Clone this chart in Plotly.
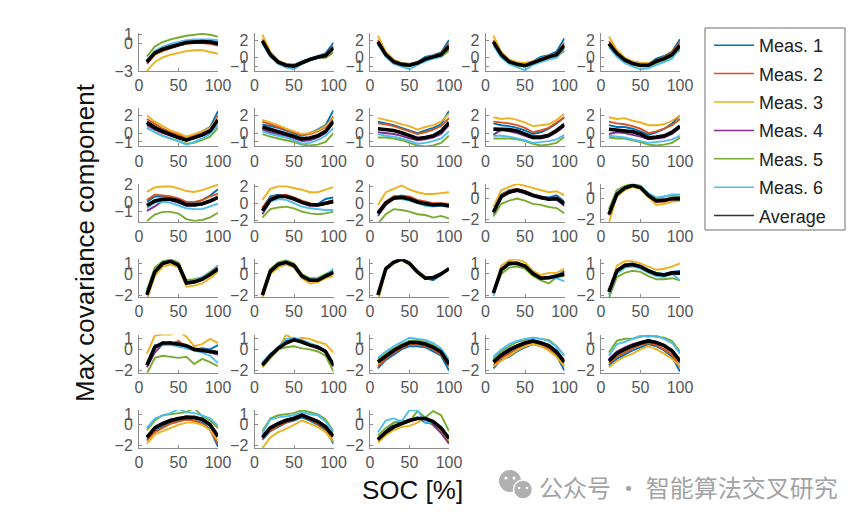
import plotly.graph_objects as go

# ---------------- data ----------------
X = [10, 20, 30, 40, 50, 60, 70, 80, 90, 100]
NAMES = ["Meas. 1", "Meas. 2", "Meas. 3", "Meas. 4", "Meas. 5", "Meas. 6", "Average"]
COLORS = ["#0072BD", "#D95319", "#EDB120", "#7E2F8E", "#77AC30", "#4DBEEE", "#000000"]
X_TICKS = [0, 50, 100]

# each panel: [Meas.1, Meas.2, Meas.3, Meas.4, Meas.5, Meas.6, Average]
P01 = [[-1.8, -0.9, -0.4, -0.1, 0.1, 0.3, 0.4, 0.4, 0.4, 0.3],
       [-2.2, -1.2, -0.8, -0.5, -0.2, 0.0, 0.1, 0.1, 0.0, -0.2],
       [-3.0, -2.0, -1.5, -1.2, -1.0, -0.8, -0.7, -0.7, -0.9, -1.1],
       [-2.0, -1.0, -0.6, -0.3, -0.1, 0.1, 0.2, 0.2, 0.1, 0.0],
       [-1.4, -0.3, 0.2, 0.5, 0.7, 0.9, 1.0, 1.1, 1.0, 0.8],
       [-1.8, -0.8, -0.3, 0.0, 0.2, 0.4, 0.5, 0.5, 0.5, 0.4],
       [-2.0, -1.0, -0.6, -0.3, -0.1, 0.15, 0.25, 0.25, 0.2, 0.0]]
P02 = [[1.9, 0.4, -0.4, -0.7, -0.8, -0.4, -0.1, 0.2, 0.5, 1.7],
       [2.1, 0.5, -0.4, -0.8, -0.8, -0.5, -0.2, 0.1, 0.3, 1.3],
       [2.6, 0.7, -0.3, -0.7, -0.8, -0.5, -0.2, 0.1, 0.3, 1.1],
       [1.9, 0.3, -0.5, -0.9, -0.9, -0.6, -0.2, 0.0, 0.2, 1.0],
       [1.7, 0.2, -0.6, -1.0, -1.0, -0.6, -0.3, 0.0, 0.0, 0.6],
       [1.6, 0.1, -0.7, -1.1, -1.3, -0.7, -0.3, 0.0, 0.2, 1.2],
       [1.9, 0.35, -0.5, -0.85, -0.95, -0.55, -0.2, 0.05, 0.25, 1.1]]
P03 = [[1.8, 0.5, -0.3, -0.6, -0.7, -0.5, 0.1, 0.3, 0.6, 2.0],
       [2.0, 0.5, -0.4, -0.7, -0.8, -0.6, -0.1, 0.2, 0.5, 1.6],
       [2.5, 0.7, -0.2, -0.6, -0.7, -0.5, -0.1, 0.2, 0.4, 1.2],
       [1.8, 0.3, -0.5, -0.8, -0.9, -0.6, -0.2, 0.1, 0.3, 1.1],
       [1.6, 0.2, -0.6, -0.9, -1.0, -0.7, -0.3, 0.0, 0.1, 0.8],
       [1.5, 0.1, -0.7, -1.0, -1.3, -0.8, -0.4, -0.1, 0.1, 1.3],
       [1.8, 0.35, -0.45, -0.75, -0.85, -0.6, -0.15, 0.1, 0.35, 1.3]]
P04 = [[1.9, 0.5, -0.3, -0.6, -0.7, -0.4, 0.1, 0.3, 0.7, 2.2],
       [2.0, 0.5, -0.4, -0.7, -0.8, -0.5, -0.1, 0.2, 0.5, 1.7],
       [2.5, 0.7, -0.2, -0.5, -0.6, -0.4, -0.1, 0.2, 0.4, 1.3],
       [1.8, 0.4, -0.5, -0.8, -0.9, -0.6, -0.2, 0.1, 0.3, 1.2],
       [1.6, 0.2, -0.6, -0.9, -1.0, -0.7, -0.3, -0.1, 0.1, 0.8],
       [1.4, 0.0, -0.7, -1.1, -1.4, -0.8, -0.5, -0.2, 0.0, 1.1],
       [1.8, 0.35, -0.45, -0.75, -0.9, -0.55, -0.15, 0.1, 0.35, 1.4]]
P05 = [[1.6, 0.6, -0.1, -0.5, -0.7, -0.7, -0.1, 0.2, 0.7, 2.1],
       [1.9, 0.7, -0.1, -0.5, -0.7, -0.7, -0.3, 0.1, 0.6, 1.8],
       [2.4, 0.9, 0.0, -0.4, -0.6, -0.6, -0.3, 0.0, 0.5, 1.4],
       [1.5, 0.4, -0.3, -0.7, -0.9, -0.9, -0.5, -0.1, 0.3, 1.3],
       [1.4, 0.3, -0.4, -0.8, -1.0, -1.0, -0.6, -0.3, 0.1, 0.9],
       [1.2, 0.1, -0.6, -1.0, -1.3, -1.2, -0.8, -0.5, -0.1, 1.2],
       [1.6, 0.5, -0.25, -0.65, -0.85, -0.85, -0.4, -0.1, 0.35, 1.4]]
P06 = [[1.3, 0.8, 0.3, 0.0, -0.3, -0.6, -0.2, 0.2, 0.7, 2.5],
       [1.6, 1.0, 0.5, 0.1, -0.2, -0.5, -0.3, 0.1, 0.5, 2.0],
       [2.0, 1.3, 0.8, 0.3, 0.0, -0.4, -0.1, 0.2, 0.6, 1.8],
       [0.9, 0.4, 0.0, -0.3, -0.6, -0.8, -0.6, -0.3, 0.1, 1.4],
       [0.6, 0.1, -0.3, -0.6, -0.9, -1.2, -1.1, -0.8, -0.4, 0.6],
       [0.6, 0.1, -0.3, -0.6, -0.9, -1.3, -1.0, -0.6, -0.1, 0.9],
       [1.2, 0.6, 0.2, -0.2, -0.5, -0.8, -0.55, -0.2, 0.25, 1.5]]
P07 = [[1.0, 0.8, 0.6, 0.3, 0.0, -0.3, 0.0, 0.4, 0.9, 2.6],
       [1.3, 1.0, 0.7, 0.4, 0.1, -0.2, -0.1, 0.2, 0.7, 1.9],
       [1.5, 1.2, 0.9, 0.5, 0.2, -0.1, 0.0, 0.3, 0.8, 1.7],
       [0.4, 0.1, -0.1, -0.3, -0.6, -0.9, -0.8, -0.5, 0.0, 1.2],
       [-0.1, -0.4, -0.6, -0.8, -1.0, -1.3, -1.4, -1.3, -1.0, 0.0],
       [0.2, -0.1, -0.3, -0.5, -0.8, -1.2, -1.1, -0.8, -0.3, 0.6],
       [0.7, 0.4, 0.2, -0.1, -0.35, -0.65, -0.55, -0.3, 0.2, 1.35]]
P08 = [[1.3, 1.1, 0.9, 0.6, 0.3, 0.0, 0.3, 0.6, 1.0, 2.5],
       [1.1, 1.0, 0.8, 0.5, 0.2, -0.1, 0.1, 0.4, 0.8, 1.7],
       [1.7, 1.5, 1.3, 1.0, 0.8, 0.4, 0.7, 0.9, 1.3, 2.2],
       [0.1, 0.0, -0.1, -0.3, -0.6, -0.8, -0.7, -0.5, -0.1, 0.9],
       [-0.5, -0.5, -0.6, -0.8, -1.1, -1.4, -1.5, -1.4, -1.1, -0.3],
       [-0.1, -0.3, -0.4, -0.6, -0.9, -1.2, -1.1, -0.9, -0.6, 0.2],
       [0.5, 0.4, 0.3, 0.05, -0.25, -0.6, -0.5, -0.3, 0.2, 1.2]]
P09 = [[1.1, 0.9, 0.8, 0.6, 0.3, -0.1, 0.1, 0.5, 1.1, 1.8],
       [1.3, 1.2, 1.1, 0.9, 0.6, 0.1, 0.3, 0.6, 1.2, 1.8],
       [1.8, 1.6, 1.7, 1.5, 1.2, 0.8, 0.9, 1.0, 1.5, 2.2],
       [-0.2, 0.4, 0.2, 0.0, -0.3, -0.6, -0.6, -0.4, 0.1, 0.8],
       [-0.6, -0.6, -0.6, -0.7, -0.9, -1.2, -1.4, -1.3, -1.1, -0.4],
       [-0.3, -0.3, -0.4, -0.6, -0.8, -1.1, -1.0, -0.9, -0.7, -0.2],
       [0.45, 0.45, 0.4, 0.25, -0.05, -0.45, -0.45, -0.25, 0.3, 1.0]]
P10 = [[0.9, 0.7, 0.7, 0.5, 0.2, -0.2, 0.1, 0.5, 1.1, 2.0],
       [1.3, 1.1, 1.0, 0.8, 0.5, 0.0, 0.2, 0.5, 0.9, 1.6],
       [1.8, 1.6, 1.7, 1.4, 1.2, 0.9, 0.9, 1.0, 1.4, 2.0],
       [-0.1, 0.1, 0.0, -0.2, -0.4, -0.7, -0.6, -0.5, -0.1, 0.6],
       [-0.5, -0.6, -0.6, -0.8, -1.0, -1.3, -1.4, -1.3, -1.1, -0.5],
       [-0.3, -0.4, -0.5, -0.7, -0.9, -1.1, -1.0, -0.9, -0.7, -0.3],
       [0.45, 0.35, 0.35, 0.15, -0.1, -0.55, -0.45, -0.3, 0.1, 0.8]]
P11 = [[0.1, 0.7, 0.7, 0.6, 0.4, 0.0, 0.0, 0.3, 0.8, 1.5],
       [0.3, 0.9, 0.8, 0.7, 0.5, 0.1, 0.1, 0.3, 0.7, 1.0],
       [1.2, 1.7, 1.8, 1.8, 1.6, 1.3, 1.2, 1.4, 1.7, 2.0],
       [-0.9, -0.4, 0.2, 0.3, 0.0, -0.3, -0.3, -0.2, 0.1, 0.5],
       [-2.0, -1.3, -1.0, -1.0, -1.2, -1.8, -2.0, -1.9, -1.6, -1.1],
       [-0.6, 0.0, 0.1, 0.0, -0.3, -0.6, -0.7, -0.7, -0.4, -0.1],
       [-0.3, 0.2, 0.4, 0.4, 0.2, -0.2, -0.25, -0.1, 0.2, 0.6]]
P12 = [[-0.6, 0.8, 1.0, 0.9, 0.6, 0.2, -0.1, -0.1, 0.5, 0.7],
       [-0.5, 0.6, 0.9, 1.0, 0.7, 0.3, 0.0, -0.2, 0.1, 0.4],
       [0.4, 1.7, 2.0, 2.0, 1.8, 1.6, 1.3, 1.3, 1.6, 1.9],
       [-1.3, 0.2, 0.7, 0.8, 0.5, 0.0, -0.3, -0.3, -0.1, 0.1],
       [-1.7, -0.7, -0.5, -0.4, -0.6, -1.0, -1.2, -1.3, -1.2, -1.0],
       [-1.0, 0.2, 0.5, 0.4, 0.0, -0.4, -0.6, -0.7, -0.8, -0.8],
       [-0.9, 0.4, 0.8, 0.8, 0.5, 0.1, -0.15, -0.2, 0.0, 0.2]]
P13 = [[-1.1, 0.1, 0.8, 0.9, 0.7, 0.3, 0.1, -0.2, -0.1, -0.3],
       [-1.0, 0.2, 0.8, 0.9, 0.8, 0.4, 0.2, 0.0, 0.0, -0.1],
       [-0.2, 1.3, 1.7, 2.1, 1.6, 1.3, 1.1, 1.1, 1.2, 1.3],
       [-1.5, -0.2, 0.6, 0.7, 0.6, 0.2, 0.0, -0.2, -0.2, -0.4],
       [-2.4, -1.3, -0.7, -0.8, -1.0, -1.3, -1.4, -1.7, -1.5, -1.8],
       [-1.3, 0.0, 0.5, 0.5, 0.3, 0.0, -0.3, -0.4, -0.3, -0.5],
       [-1.2, 0.0, 0.6, 0.7, 0.5, 0.15, -0.05, -0.2, -0.15, -0.3]]
P14 = [[-1.2, 0.4, 0.8, 0.9, 0.7, 0.4, 0.2, 0.1, 0.3, -0.3],
       [-1.2, 0.3, 0.8, 0.9, 0.7, 0.4, 0.2, 0.0, 0.1, -0.5],
       [-0.8, 0.8, 1.1, 1.4, 1.2, 1.0, 0.8, 0.6, 0.7, 0.3],
       [-1.5, 0.1, 0.6, 0.7, 0.5, 0.2, 0.0, -0.1, -0.1, -0.7],
       [-1.7, -0.5, -0.2, 0.0, -0.2, -0.5, -0.6, -0.8, -0.9, -1.4],
       [-1.4, 0.2, 0.7, 0.8, 0.6, 0.3, 0.1, 0.0, 0.0, -0.5],
       [-1.3, 0.2, 0.6, 0.8, 0.6, 0.3, 0.1, -0.05, 0.0, -0.5]]
P15 = [[-1.4, 0.4, 1.0, 1.2, 1.1, 0.3, -0.2, -0.2, 0.0, 0.0],
       [-1.6, 0.3, 0.9, 1.2, 1.0, 0.2, -0.3, -0.3, -0.1, -0.1],
       [-2.3, 0.2, 0.8, 1.1, 0.9, 0.1, -0.6, -0.5, -0.3, -0.2],
       [-1.5, 0.3, 1.0, 1.2, 1.0, 0.2, -0.3, -0.2, -0.1, -0.1],
       [-1.0, 0.8, 1.2, 1.4, 1.2, 0.5, 0.0, 0.2, 0.3, 0.2],
       [-1.5, 0.5, 1.1, 1.3, 1.2, 0.5, 0.1, 0.2, 0.4, 0.4],
       [-1.5, 0.4, 1.0, 1.25, 1.05, 0.3, -0.2, -0.15, 0.0, 0.0]]
P16 = [[-1.9, 0.3, 1.0, 1.2, 0.9, -0.8, -0.7, -0.4, 0.0, 0.6],
       [-2.0, 0.2, 1.0, 1.2, 0.8, -0.9, -0.7, -0.5, -0.1, 0.4],
       [-2.4, -0.2, 0.7, 0.9, 0.6, -1.2, -1.1, -0.9, -0.4, 0.2],
       [-2.0, 0.2, 1.0, 1.2, 0.8, -0.9, -0.8, -0.5, -0.1, 0.4],
       [-1.5, 0.6, 1.2, 1.4, 1.1, -0.6, -0.5, -0.3, 0.2, 0.8],
       [-1.8, 0.3, 1.1, 1.3, 0.9, -0.8, -0.6, -0.3, 0.1, 0.7],
       [-1.95, 0.2, 1.0, 1.2, 0.85, -0.85, -0.75, -0.5, -0.05, 0.5]]
P17 = [[-2.0, 0.3, 0.9, 1.1, 0.8, -0.2, -0.6, -0.6, -0.2, 0.2],
       [-2.0, 0.3, 0.9, 1.1, 0.8, -0.2, -0.6, -0.6, -0.2, 0.1],
       [-2.2, 0.0, 0.6, 0.9, 0.6, -0.4, -0.9, -0.8, -0.4, -0.2],
       [-2.0, 0.2, 0.9, 1.1, 0.8, -0.2, -0.6, -0.6, -0.2, 0.1],
       [-1.7, 0.5, 1.1, 1.3, 1.0, 0.0, -0.4, -0.4, 0.0, 0.3],
       [-1.9, 0.3, 1.0, 1.2, 0.9, -0.1, -0.5, -0.5, -0.1, 0.5],
       [-2.0, 0.25, 0.9, 1.1, 0.8, -0.2, -0.6, -0.6, -0.2, 0.15]]
P18 = [[-2.0, 0.5, 1.1, 1.4, 1.0, 0.2, -0.4, -0.6, -0.1, 0.5],
       [-2.0, 0.5, 1.1, 1.4, 1.0, 0.2, -0.4, -0.3, 0.0, 0.4],
       [-2.6, 0.3, 1.0, 1.3, 0.9, 0.1, -0.5, -0.4, 0.0, 0.4],
       [-2.0, 0.5, 1.1, 1.4, 1.0, 0.2, -0.4, -0.3, 0.0, 0.5],
       [-1.9, 0.6, 1.2, 1.4, 1.1, 0.3, -0.3, -0.3, 0.0, 0.5],
       [-2.0, 0.5, 1.1, 1.4, 1.0, 0.2, -0.4, -0.3, 0.0, 0.6],
       [-2.0, 0.5, 1.1, 1.4, 1.0, 0.2, -0.4, -0.35, 0.0, 0.5]]
P19 = [[-1.8, 0.4, 1.0, 1.0, 0.8, 0.1, -0.4, -0.3, -0.2, 0.3],
       [-1.7, 0.5, 1.0, 1.1, 0.8, 0.1, -0.3, -0.3, -0.1, 0.1],
       [-1.6, 0.8, 1.3, 1.4, 1.1, 0.3, -0.1, 0.1, 0.1, 0.5],
       [-1.8, 0.4, 0.9, 1.0, 0.7, 0.0, -0.4, -0.4, -0.2, 0.0],
       [-1.9, 0.0, 0.6, 0.7, 0.5, -0.2, -0.6, -0.9, -0.3, -0.2],
       [-2.1, 0.3, 0.9, 1.0, 0.7, 0.0, -0.5, -0.4, -0.4, -0.7],
       [-1.8, 0.4, 1.0, 1.0, 0.75, 0.05, -0.4, -0.35, -0.2, 0.0]]
P20 = [[-1.6, 0.4, 0.9, 1.0, 0.8, 0.4, 0.1, 0.0, 0.2, 0.3],
       [-1.5, 0.4, 0.9, 0.9, 0.7, 0.3, 0.0, -0.1, 0.1, 0.1],
       [-2.0, 0.8, 1.2, 1.2, 1.0, 0.7, 0.4, 0.5, 0.7, 1.0],
       [-1.7, 0.2, 0.7, 0.8, 0.6, 0.2, -0.1, -0.2, 0.0, 0.0],
       [-2.3, -0.3, 0.1, 0.3, 0.2, -0.2, -0.5, -0.5, -0.4, -0.6],
       [-2.0, 0.0, 0.6, 0.7, 0.5, 0.1, -0.2, -0.3, 0.0, -0.6],
       [-1.7, 0.3, 0.8, 0.9, 0.7, 0.3, 0.0, -0.1, 0.1, 0.1]]
P21 = [[-1.4, 0.4, 0.5, 0.5, 0.4, 0.3, 0.0, 0.1, 0.0, 0.4],
       [-1.3, 0.3, 0.6, 0.4, 0.8, 0.2, 0.0, 0.0, -0.1, -0.3],
       [-0.4, 1.3, 1.4, 1.4, 1.7, 1.2, 0.3, 0.5, 1.0, 0.6],
       [-1.7, -0.3, 0.5, 0.7, 0.3, 0.2, -0.1, -0.1, -0.3, -0.5],
       [-2.3, -0.8, -0.6, -0.7, -0.8, -0.7, -1.4, -0.9, -1.2, -1.6],
       [-1.5, 0.2, 0.4, 0.4, 0.3, 0.1, -0.1, -0.3, -0.6, -1.3],
       [-1.5, 0.2, 0.6, 0.6, 0.5, 0.35, 0.0, -0.1, -0.2, -0.3]]
P22 = [[-1.4, -0.6, 0.2, 0.8, 0.9, 0.7, 0.5, 0.3, -0.1, -1.6],
       [-1.6, -0.8, 0.0, 0.6, 0.9, 0.8, 0.5, 0.2, -0.3, -1.6],
       [-1.7, -0.8, 0.0, 1.4, 0.9, 1.1, 1.0, 0.7, 0.5, -0.3],
       [-1.5, -0.6, 0.2, 0.7, 1.0, 0.8, 0.5, 0.1, -0.2, -1.6],
       [-1.6, -0.8, 0.0, 0.2, 0.3, 0.1, 0.0, -0.2, -0.6, -2.1],
       [-1.2, -0.4, 0.2, 1.0, 1.1, 0.9, 0.6, 0.3, -0.2, -1.5],
       [-1.5, -0.6, 0.1, 0.6, 0.9, 0.7, 0.4, 0.2, -0.2, -1.5]]
P23 = [[-1.8, -1.0, -0.5, 0.0, 0.3, 0.3, 0.2, -0.2, -0.6, -2.0],
       [-1.6, -0.9, -0.3, 0.1, 0.5, 0.5, 0.3, 0.0, -0.5, -1.6],
       [-1.4, -0.7, -0.1, 0.3, 0.6, 0.7, 0.6, 0.3, -0.2, -1.4],
       [-1.1, -0.5, 0.0, 0.4, 0.7, 0.7, 0.6, 0.3, -0.2, -1.3],
       [-0.9, -0.4, 0.1, 0.5, 0.8, 0.9, 0.7, 0.4, 0.0, -1.0],
       [-0.8, -0.2, 0.3, 0.7, 1.1, 1.0, 0.9, 0.6, 0.1, -1.0],
       [-1.2, -0.6, -0.1, 0.3, 0.65, 0.65, 0.5, 0.2, -0.25, -1.4]]
P24 = [[-1.8, -1.0, -0.7, -0.2, 0.2, 0.5, 0.3, 0.0, -0.6, -2.0],
       [-1.5, -0.8, -0.4, 0.0, 0.4, 0.6, 0.4, 0.1, -0.5, -1.6],
       [-1.6, -1.1, -0.6, -0.1, 0.3, 0.5, 0.3, -0.1, -0.7, -1.6],
       [-1.0, -0.4, 0.1, 0.4, 0.7, 0.8, 0.7, 0.4, -0.1, -1.1],
       [-0.9, -0.2, 0.3, 0.7, 0.9, 1.1, 1.0, 0.9, 0.3, -0.6],
       [-0.7, 0.0, 0.5, 0.8, 1.0, 1.1, 1.0, 0.8, 0.2, -0.6],
       [-1.2, -0.55, -0.1, 0.3, 0.6, 0.8, 0.6, 0.35, -0.25, -1.2]]
P25 = [[-1.5, -0.9, -0.5, -0.1, 0.2, 0.5, 0.3, -0.1, -0.7, -2.1],
       [-1.3, -0.7, -0.3, 0.1, 0.4, 0.6, 0.4, 0.0, -0.5, -1.7],
       [-1.7, -1.1, -0.7, -0.4, 0.0, 0.3, 0.0, -0.4, -0.9, -1.6],
       [-0.9, -0.2, 0.2, 0.5, 0.7, 0.9, 0.7, 0.4, -0.1, -1.3],
       [-0.3, 0.8, 1.0, 1.0, 1.2, 1.3, 1.2, 1.1, 0.8, -0.2],
       [-0.6, 0.5, 0.7, 1.0, 1.3, 1.2, 1.3, 1.0, 0.6, -0.4],
       [-1.1, -0.4, 0.0, 0.35, 0.6, 0.8, 0.65, 0.35, -0.15, -1.1]]
P26 = [[-1.4, -0.6, -0.2, 0.2, 0.4, 0.5, 0.4, 0.2, -0.4, -2.1],
       [-1.5, -0.7, -0.3, 0.1, 0.3, 0.5, 0.4, 0.1, -0.5, -1.8],
       [-1.8, -0.9, -0.6, -0.3, 0.0, 0.2, 0.2, 0.0, -0.5, -1.5],
       [-1.2, -0.2, 0.2, 0.5, 0.6, 0.8, 0.7, 0.6, 0.1, -1.0],
       [-0.5, 0.4, 0.9, 1.0, 1.1, 1.2, 1.6, 0.8, 0.4, -0.3],
       [-0.3, 0.6, 0.9, 1.1, 1.5, 1.2, 1.1, 0.9, 0.6, -0.1],
       [-1.2, -0.3, 0.1, 0.4, 0.6, 0.7, 0.7, 0.5, 0.0, -1.1]]
P27 = [[-1.4, -0.6, -0.2, 0.2, 0.4, 0.7, 0.4, 0.0, -0.5, -1.8],
       [-1.3, -0.6, -0.1, 0.2, 0.5, 0.8, 0.5, 0.1, -0.4, -1.6],
       [-2.2, -1.2, -0.7, -0.4, 0.0, 0.4, 0.1, -0.2, -0.7, -1.6],
       [-1.0, -0.2, 0.2, 0.5, 0.7, 1.0, 0.7, 0.4, -0.1, -1.0],
       [-0.6, 0.6, 0.9, 1.0, 1.1, 1.4, 1.2, 1.0, 0.5, -0.6],
       [-0.8, 0.5, 0.7, 0.8, 0.9, 1.2, 1.0, 0.9, 0.3, -0.7],
       [-1.2, -0.3, 0.1, 0.4, 0.6, 0.9, 0.6, 0.3, -0.2, -1.1]]
P28 = [[-1.4, -0.6, 0.2, 0.3, 0.4, 0.7, 0.2, 0.1, -0.6, -1.3],
       [-1.5, -0.8, -0.3, 0.1, 0.3, 0.6, 0.7, 0.3, -0.5, -1.6],
       [-1.7, -1.0, -0.5, -0.2, -0.1, 0.2, 0.7, -0.1, -0.7, -1.5],
       [-1.3, -0.6, -0.1, 0.2, 0.5, 0.6, 0.5, 0.0, -0.8, -1.8],
       [-1.0, -0.3, 0.2, 0.4, 0.3, 1.3, 0.7, 1.3, 0.9, -0.6],
       [-0.7, 0.4, 0.6, 0.3, 1.4, 1.4, 0.2, 0.2, -0.4, -1.2],
       [-1.4, -0.7, -0.2, 0.1, 0.4, 0.6, 0.6, 0.3, -0.3, -1.3]]

PANELS = [P01, P02, P03, P04, P05, P06, P07, P08, P09, P10,
          P11, P12, P13, P14, P15, P16, P17, P18, P19, P20,
          P21, P22, P23, P24, P25, P26, P27, P28]

Y_TICKS = ([[-3, 0, 1]] + [[-1, 0, 2]] * 10 + [[-2, 0, 2]] * 2 + [[-2, 0, 1]] * 15)
Y_RANGES = ([[-3, 1.2]] + [[-1.5, 2.8]] * 9 + [[-2.1, 2.1]] + [[-2.2, 2.3]] * 2
            + [[-2.2, 1.4]] * 15)

# ---------------- layout ----------------
W, H = 865, 520
COL_LEFT = [139, 254.5, 370, 485.5, 601]
COL_W = 79
ROW_TOP = [33, 108.4, 183.8, 259.2, 334.6, 410]
ROW_H = 38
FONT = "Liberation Sans, Arial, sans-serif"
AXC = "#8c8c8c"
TXC = "#555555"

fig = go.Figure()
layout = {}
for i, data in enumerate(PANELS):
    r, c = divmod(i, 5)
    sfx = "" if i == 0 else str(i + 1)
    for k in range(7):
        fig.add_trace(go.Scatter(
            x=X, y=data[k], mode="lines",
            line=dict(color=COLORS[k], width=3.6 if k == 6 else 1.9),
            xaxis="x" + sfx, yaxis="y" + sfx,
            showlegend=False, hoverinfo="skip"))
    x0 = COL_LEFT[c] / W
    x1 = (COL_LEFT[c] + COL_W) / W
    y1 = 1 - ROW_TOP[r] / H
    y0 = 1 - (ROW_TOP[r] + ROW_H) / H
    common = dict(showline=True, linecolor=AXC, linewidth=1, ticks="inside",
                  ticklen=3, tickcolor=AXC, showgrid=False, zeroline=False,
                  automargin=False,
                  tickfont=dict(family=FONT, size=16, color=TXC))
    layout["xaxis" + sfx] = dict(domain=[x0, x1], range=[0, 100], anchor="y" + sfx,
                                 tickvals=X_TICKS, ticklabelstandoff=0, **common)
    layout["yaxis" + sfx] = dict(domain=[y0, y1], range=Y_RANGES[i], anchor="x" + sfx,
                                 tickvals=Y_TICKS[i], ticklabelstandoff=2, **common)

# legend entries (thin lines like the reference legend)
for k in range(7):
    fig.add_trace(go.Scatter(
        x=[None], y=[None], mode="lines", name=NAMES[k],
        line=dict(color="#333333" if k == 6 else COLORS[k], width=1.5),
        legendgroup="g%d" % k, showlegend=True, xaxis="x", yaxis="y"))

annotations = [
    dict(text="Max covariance component", x=85 / W, y=1 - 243 / H, xref="paper", yref="paper",
         textangle=-90, showarrow=False, font=dict(family=FONT, size=26, color="#111111"),
         xanchor="center", yanchor="middle"),
    dict(text="SOC [%]", x=412 / W, y=1 - 490 / H, xref="paper", yref="paper",
         showarrow=False, font=dict(family=FONT, size=26, color="#111111"),
         xanchor="center", yanchor="middle"),
    dict(text="公众号 · 智能算法交叉研究", x=537 / W, y=1 - 486 / H, xref="paper", yref="paper",
         showarrow=False, font=dict(family="Noto Sans CJK SC", size=24, color="#a3a3a3"),
         xanchor="left", yanchor="middle"),
]

def circ(cx, cy, rr, fill, line="rgba(0,0,0,0)", lw=0):
    return dict(type="circle", xref="paper", yref="paper",
                x0=(cx - rr) / W, x1=(cx + rr) / W, y0=1 - (cy + rr) / H, y1=1 - (cy - rr) / H,
                fillcolor=fill, line=dict(color=line, width=lw), layer="above")

shapes = [
    # legend frame (drawn as a box so its size matches the reference)
    dict(type="rect", xref="paper", yref="paper",
         x0=705 / W, x1=845 / W, y0=1 - 230 / H, y1=1 - 28 / H,
         fillcolor="white", line=dict(color="#6e6e6e", width=1), layer="below"),
    circ(510, 481, 11, "#b0b0b0"),
    circ(523, 489.5, 9.5, "#b0b0b0", "white", 1.5),
    circ(506, 478, 1.6, "white"), circ(514, 478, 1.6, "white"),
    circ(519, 488, 1.3, "white"), circ(527, 488, 1.3, "white"),
]

fig.update_layout(
    width=W, height=H, margin=dict(l=0, r=0, t=0, b=0, autoexpand=False),
    paper_bgcolor="white", plot_bgcolor="white",
    showlegend=True,
    legend=dict(x=709 / W, y=1 - 27 / H, xanchor="left", yanchor="top",
                xref="container", yref="container",
                bgcolor="rgba(0,0,0,0)", borderwidth=0,
                font=dict(family=FONT, size=18, color="#222222"),
                tracegroupgap=2, itemwidth=40),
    annotations=annotations, shapes=shapes,
    **layout)

fig.write_html("out.html")
